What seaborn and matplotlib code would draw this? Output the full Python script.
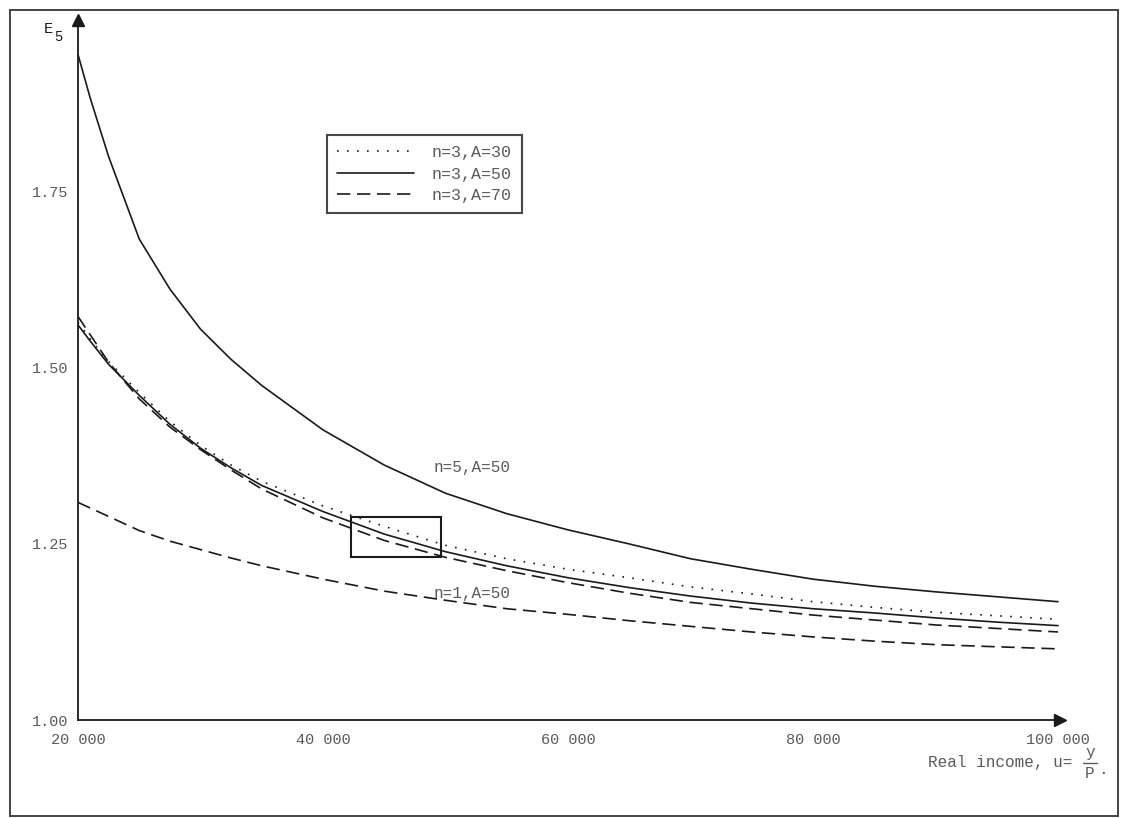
import matplotlib
matplotlib.use("Agg")
import matplotlib.pyplot as plt
import seaborn as sns
from matplotlib.patches import Rectangle
from matplotlib.lines import Line2D

# ---- data ----
income = [20000, 21000, 22500, 25000, 27500, 30000, 32500, 35000, 40000, 45000,
          50000, 55000, 60000, 65000, 70000, 75000, 80000, 85000, 90000, 95000, 100000]
e_n5_a50 = [1.945, 1.883, 1.800, 1.683, 1.612, 1.555, 1.512, 1.475, 1.412, 1.362,
            1.322, 1.293, 1.270, 1.250, 1.229, 1.214, 1.200, 1.190, 1.182, 1.175, 1.168]
e_n3_a30 = [1.565, 1.541, 1.509, 1.465, 1.424, 1.390, 1.362, 1.339, 1.304, 1.275,
            1.248, 1.229, 1.214, 1.202, 1.189, 1.179, 1.168, 1.160, 1.153, 1.148, 1.143]
e_n3_a50 = [1.561, 1.538, 1.505, 1.461, 1.420, 1.386, 1.358, 1.333, 1.296, 1.264,
            1.239, 1.219, 1.202, 1.188, 1.176, 1.166, 1.158, 1.152, 1.145, 1.139, 1.134]
e_n3_a70 = [1.573, 1.547, 1.508, 1.456, 1.416, 1.384, 1.355, 1.328, 1.287, 1.255,
            1.231, 1.212, 1.195, 1.180, 1.167, 1.158, 1.149, 1.142, 1.135, 1.130, 1.125]
e_n1_a50 = [1.309, 1.301, 1.289, 1.269, 1.254, 1.242, 1.230, 1.219, 1.200, 1.183,
            1.170, 1.158, 1.150, 1.141, 1.133, 1.125, 1.118, 1.112, 1.107, 1.104, 1.101]

legend_labels = ["n=3,A=30", "n=3,A=50", "n=3,A=70"]
x_major = [40000, 60000, 80000]
x_major_labels = ["40 000", "60 000", "80 000"]
x_minor = [20000, 100000]
x_minor_labels = ["20 000", "100 000"]
y_major = [1.25, 1.50, 1.75]
y_major_labels = ["1.25", "1.50", "1.75"]
y_minor = [1.00]
y_minor_labels = ["1.00"]

# annotation box in data units
box_x0, box_x1 = 42300, 49600
box_y0, box_y1 = 1.232, 1.288

# ---- style ----
sns.set_theme(style="white")
FONT = ["Liberation Mono", "DejaVu Sans Mono"]
plt.rcParams["font.family"] = FONT
TXT = "#5a5a5a"
INK = "#1a1a1a"

W, H = 1123, 818
fig = plt.figure(figsize=(W / 100, H / 100), dpi=100)
fig.patch.set_facecolor("white")

def fx(px):
    return px / W

def fy(py):
    return 1 - py / H

ax = fig.add_axes([fx(78), fy(720), fx(1060) - fx(78), fy(20) - fy(720)])
ax.set_facecolor("white")

lw = 1.2
sns.lineplot(x=income, y=e_n5_a50, ax=ax, color=INK, lw=lw, linestyle="-")
sns.lineplot(x=income, y=e_n3_a30, ax=ax, color=INK, lw=lw, linestyle=(0, (1, 5)))
sns.lineplot(x=income, y=e_n3_a50, ax=ax, color=INK, lw=lw, linestyle="-")
sns.lineplot(x=income, y=e_n3_a70, ax=ax, color=INK, lw=lw, linestyle=(0, (8, 4)))
sns.lineplot(x=income, y=e_n1_a50, ax=ax, color=INK, lw=lw, linestyle=(0, (8, 4)))

ax.set_xlim(20000, 100163)
ax.set_ylim(1.0, 1.994)

for s in ["top", "right"]:
    ax.spines[s].set_visible(False)
for s in ["left", "bottom"]:
    ax.spines[s].set_color(INK)
    ax.spines[s].set_linewidth(1.3)

ax.plot(1, 0, ">", color=INK, ms=9, transform=ax.transAxes, clip_on=False)
ax.plot(0, 1, "^", color=INK, ms=9, transform=ax.transAxes, clip_on=False)

ax.set_xticks(x_major)
ax.set_xticklabels(x_major_labels)
ax.set_xticks(x_minor, minor=True)
ax.set_xticklabels(x_minor_labels, minor=True)
ax.set_yticks(y_major)
ax.set_yticklabels(y_major_labels)
ax.set_yticks(y_minor, minor=True)
ax.set_yticklabels(y_minor_labels, minor=True)

ax.tick_params(axis="both", which="major", direction="in", length=7, width=1.2,
               color=INK, labelcolor=TXT, labelsize=11)
ax.tick_params(axis="both", which="minor", length=0, labelcolor=TXT, labelsize=11)
ax.tick_params(axis="x", which="both", pad=9)
ax.tick_params(axis="y", which="both", pad=7)
for t in ax.get_xticklabels(which="both") + ax.get_yticklabels(which="both"):
    t.set_fontfamily(FONT)
ax.set_xlabel("")
ax.set_ylabel("")
ax.grid(False)

# annotation box
ax.add_patch(Rectangle((box_x0, box_y0), box_x1 - box_x0, box_y1 - box_y0,
                       fill=False, edgecolor=INK, lw=1.5, zorder=5))

# curve labels
ax.text(49000, 1.359, "n=5,A=50", color=TXT, fontsize=11.5, va="center", ha="left")
ax.text(49000, 1.180, "n=1,A=50", color=TXT, fontsize=11.5, va="center", ha="left")

# legend
handles = [Line2D([], [], color=INK, lw=lw, linestyle=(0, (1, 5))),
           Line2D([], [], color=INK, lw=lw, linestyle="-"),
           Line2D([], [], color=INK, lw=lw, linestyle=(0, (8, 4)))]
leg = ax.legend(handles, legend_labels, loc="upper left",
                bbox_to_anchor=(fx(327), fy(135)), bbox_transform=fig.transFigure,
                borderaxespad=0, frameon=True, fancybox=False, fontsize=12,
                handlelength=4.6, handletextpad=1.1, labelspacing=0.39,
                borderpad=0.6)
leg.get_frame().set_edgecolor(INK)
leg.get_frame().set_linewidth(1.5)
for t in leg.get_texts():
    t.set_color(TXT)

# y axis label E_5
fig.text(fx(44), fy(29), "E", color=INK, fontsize=11, ha="left", va="center")
fig.text(fx(54), fy(37), "5", color=INK, fontsize=10, ha="left", va="center")

# x axis label
fig.text(fx(928), fy(763), "Real income, u=", color=TXT, fontsize=11.5,
         ha="left", va="center")
fig.text(fx(1090), fy(753), "y", color=TXT, fontsize=11.5, ha="center", va="center")
fig.text(fx(1090), fy(773), "P", color=TXT, fontsize=11.5, ha="center", va="center")
fig.add_artist(Line2D([fx(1083), fx(1097)], [fy(763), fy(763)], color=TXT, lw=1.0,
                      transform=fig.transFigure))
fig.text(fx(1098), fy(769), ".", color=TXT, fontsize=11.5, ha="left", va="center")

# outer frame
fig.add_artist(Rectangle((fx(10), fy(816)), fx(1118) - fx(10), fy(10) - fy(816),
                         fill=False, edgecolor="#444444", lw=1.4,
                         transform=fig.transFigure))

fig.savefig("out.png", dpi=100, facecolor="white")
